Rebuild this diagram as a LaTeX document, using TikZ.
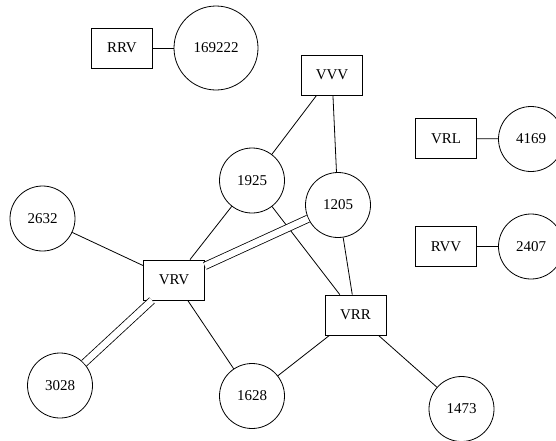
\documentclass[tikz,border=0pt]{standalone}
\usepackage{fontspec}
\setmainfont{Liberation Serif}
\begin{document}
\begin{tikzpicture}[x=1pt,y=-1pt,
  box/.style={draw,line width=0.8pt,minimum width=61pt,minimum height=40pt,inner sep=0pt,font=\fontsize{15}{17}\selectfont},
  circ/.style={draw,circle,line width=0.8pt,minimum size=65pt,inner sep=0pt,font=\fontsize{15}{17}\selectfont},
  edge/.style={line width=0.8pt},
  dbl/.style={line width=0.8pt,double,double distance=6.5pt}]
\useasboundingbox (0,0) rectangle (556,440);
\begin{scope}
\clip (0,0) rectangle (556,440);
\node[box] (RRV) at (122,48) {RRV};
\node[circ,minimum size=84pt] (c169222) at (216,48) {169222};
\node[box] (VVV) at (332,75) {VVV};
\node[box] (VRL) at (446,138.5) {VRL};
\node[circ] (c4169) at (531,139) {4169};
\node[box] (RVV) at (446,246.5) {RVV};
\node[circ] (c2407) at (531,246.5) {2407};
\node[circ] (c1925) at (252,180.5) {1925};
\node[circ] (c1205) at (338,205) {1205};
\node[circ] (c2632) at (42.5,218.5) {2632};
\node[box] (VRV) at (174,280) {VRV};
\node[box] (VRR) at (355.5,315) {VRR};
\node[circ] (c3028) at (60,385.5) {3028};
\node[circ] (c1628) at (252,396) {1628};
\node[circ] (c1473) at (461.5,409) {1473};

\draw[edge] (RRV) -- (c169222);
\draw[edge] (VVV) -- (c1925);
\draw[edge] (VVV) -- (c1205);
\draw[edge] (VRL) -- (c4169);
\draw[edge] (RVV) -- (c2407);
\draw[edge] (c2632) -- (VRV);
\draw[edge] (c1925) -- (VRV);
\draw[edge] (c1925) -- (VRR);
\draw[dbl] (c1205) -- (VRV);
\draw[edge] (c1205) -- (VRR);
\draw[dbl] (VRV) -- (c3028);
\draw[edge] (VRV) -- (c1628);
\draw[edge] (VRR) -- (c1628);
\draw[edge] (VRR) -- (c1473);
\end{scope}
\end{tikzpicture}
\end{document}
